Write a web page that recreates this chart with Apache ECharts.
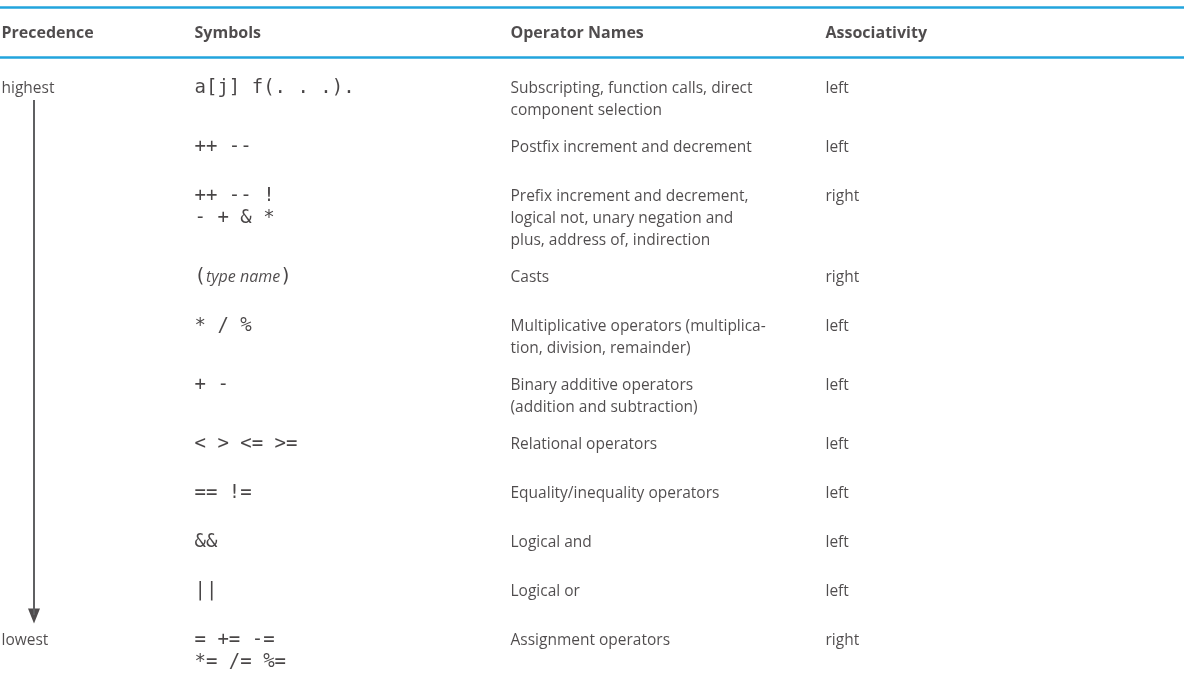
<!DOCTYPE html>
<html>
<head>
<meta charset="utf-8">
<script src="https://cdn.jsdelivr.net/npm/echarts@6/dist/echarts.min.js"></script>
<style>
html,body{margin:0;padding:0;background:#fff;}
#chart{width:1184px;height:678px;}
</style>
</head>
<body>
<div id="chart"></div>
<script>
// ---- table content ----
const headers = ["Precedence", "Symbols", "Operator Names", "Associativity"];
const precedence = ["highest", "", "", "", "", "", "", "", "", "", "lowest"];
const symbols = [
  "a[j] f(. . .).",
  "++ --",
  "++ -- !\n- + & *",
  "(type name)",
  "* / %",
  "+ -",
  "< > <= >=",
  "== !=",
  "&&",
  "||",
  "= += -=\n*= /= %="
];
const operatorNames = [
  "Subscripting, function calls, direct\ncomponent selection",
  "Postfix increment and decrement",
  "Prefix increment and decrement,\nlogical not, unary negation and\nplus, address of, indirection",
  "Casts",
  "Multiplicative operators (multiplica-\ntion, division, remainder)",
  "Binary additive operators\n(addition and subtraction)",
  "Relational operators",
  "Equality/inequality operators",
  "Logical and",
  "Logical or",
  "Assignment operators"
];
const associativity = ["left", "left", "right", "right", "left", "left", "left", "left", "left", "left", "right"];

// ---- layout (not data) ----
const W = 1184, H = 678;
const colX = [2, 195, 511, 826];
const headerY = 32;
const ruleTopY = 7.5, ruleHeadY = 57.5;
const firstRowY = 87, lineH = 22, singleRowH = 49, multiPad = 15;
const arrowX = 34;
const textNudge = 2;

const columns = [precedence, symbols, operatorNames, associativity];
const nLines = s => s ? s.split("\n").length : 1;
const rowY = [];
let y = firstRowY;
for (let i = 0; i < symbols.length; i++) {
  rowY.push(y);
  const L = Math.max(nLines(precedence[i]), nLines(symbols[i]), nLines(operatorNames[i]), nLines(associativity[i]));
  y += Math.max(singleRowH, L * lineH + multiPad);
}

const textColor = "#231f20";
const bodyFont = "'Open Sans', 'Noto Sans', sans-serif";
const monoFont = "'DejaVu Sans Mono', 'Liberation Mono', monospace";
const blue = "#22a4dd";

function textSeries(name, items, style) {
  return {
    type: "scatter",
    name: name,
    symbolSize: 1,
    itemStyle: { color: "transparent" },
    silent: true,
    data: items,
    label: Object.assign({
      show: true,
      position: [0, -lineH / 2 + textNudge],
      align: "left",
      verticalAlign: "top",
      color: textColor,
      lineHeight: lineH,
      formatter: p => p.name
    }, style)
  };
}

const headerItems = headers.map((h, c) => ({ name: h, value: [colX[c], headerY] }));
const bodyStyle = { fontFamily: bodyFont, fontSize: 15.5, fontWeight: 400 };
const monoSize = 19;
const colStyles = [
  bodyStyle,
  { fontFamily: monoFont, fontSize: monoSize, color: "#1a1718",
    formatter: p => p.name === "(type name)" ? "{m|(}{i|type name}{m|)}" : p.name,
    rich: {
      m: { fontFamily: monoFont, fontSize: monoSize, color: "#1a1718", lineHeight: lineH },
      i: { fontFamily: bodyFont, fontSize: 16, fontStyle: "italic", fontWeight: 400, color: textColor, lineHeight: lineH }
    } },
  bodyStyle,
  bodyStyle
];

const series = [];
series.push({
  type: "line", silent: true, symbol: "none",
  lineStyle: { color: blue, width: 2.5 },
  data: [[0, ruleTopY], [W, ruleTopY]]
});
series.push({
  type: "line", silent: true, symbol: "none",
  lineStyle: { color: blue, width: 2.5 },
  data: [[0, ruleHeadY], [W, ruleHeadY]]
});
series.push(textSeries("headers", headerItems, { fontFamily: bodyFont, fontSize: 16, fontWeight: "bold" }));
columns.forEach((col, c) => {
  const items = [];
  col.forEach((t, i) => { if (t) items.push({ name: t, value: [colX[c], rowY[i]] }); });
  series.push(textSeries(headers[c], items, colStyles[c]));
});
// precedence arrow: from "highest" down to "lowest"
const lastY = rowY[rowY.length - 1];
series.push({
  type: "line", silent: true, symbol: "none",
  lineStyle: { color: "#5f6062", width: 2 },
  data: [[arrowX, firstRowY + 13], [arrowX, lastY - 24]]
});
series.push({
  type: "scatter", silent: true,
  symbol: "triangle", symbolRotate: 180, symbolSize: [12, 15],
  itemStyle: { color: "#231f20" },
  data: [[arrowX, lastY - 23]]
});

const chart = echarts.init(document.getElementById("chart"), null, { renderer: "canvas" });
chart.setOption({
  animation: false,
  backgroundColor: "#ffffff",
  grid: { left: 0, right: 0, top: 0, bottom: 0 },
  xAxis: { type: "value", min: 0, max: W, show: false },
  yAxis: { type: "value", min: 0, max: H, inverse: true, show: false },
  series: series
});
</script>
</body>
</html>
